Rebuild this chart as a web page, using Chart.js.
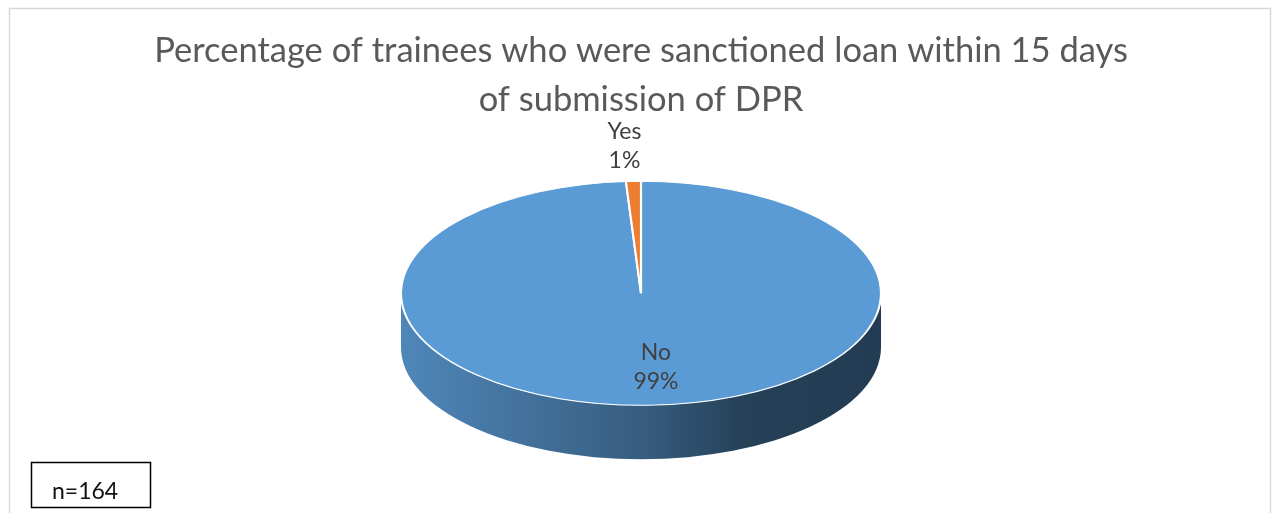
<!DOCTYPE html>
<html>
<head>
<meta charset="utf-8">
<script src="https://cdn.jsdelivr.net/npm/chart.js@4/dist/chart.umd.min.js"></script>
<style>
  html, body { margin: 0; padding: 0; background: #fff; }
  canvas { display: block; }
</style>
</head>
<body>
<canvas id="chart" width="1272" height="513"></canvas>
<script>
const titleLines = ['Percentage of trainees who were sanctioned loan within 15 days', 'of submission of DPR'];
const categories = ['No', 'Yes'];
const percentValues = [99, 1];
const sliceColors = ['#5b9bd5', '#ed7d31'];
const sampleNote = 'n=164';

const FONT = 'Lato';
// on-screen size of the tilted pie (top face radii + wall height)
const PIE_RX = 240;
const PIE_RY = 112;
const PIE_DEPTH = 54;

function shade(hex, f) {
  const n = parseInt(hex.slice(1), 16);
  const r = Math.round(((n >> 16) & 255) * f);
  const g = Math.round(((n >> 8) & 255) * f);
  const b = Math.round((n & 255) * f);
  return `rgb(${r},${g},${b})`;
}

function pieGeometry(chart) {
  const arcs = chart.getDatasetMeta(0).data;
  const first = arcs[0];
  return { arcs, cx: first.x, cy: first.y, r: first.outerRadius };
}

// part of [a0, a1] facing the viewer (0..PI is the lower half of the ellipse)
function frontSpan(a0, a1) {
  for (let k = -2; k <= 2; k++) {
    const off = k * 2 * Math.PI;
    const lo = Math.max(a0, off);
    const hi = Math.min(a1, off + Math.PI);
    if (hi > lo) return [lo - off, hi - off];
  }
  return null;
}

const tiltPlugin = {
  id: 'tilt',
  beforeDatasetsDraw(chart) {
    const { ctx } = chart;
    const { arcs, cx, cy, r } = pieGeometry(chart);

    // side wall under the front of each slice
    arcs.forEach((arc, i) => {
      const span = frontSpan(arc.startAngle, arc.endAngle);
      if (!span) return;
      const base = sliceColors[i];
      const grad = ctx.createLinearGradient(cx - PIE_RX, 0, cx + PIE_RX, 0);
      grad.addColorStop(0, shade(base, 0.87));
      grad.addColorStop(0.5, shade(base, 0.6));
      grad.addColorStop(0.72, shade(base, 0.41));
      grad.addColorStop(1, shade(base, 0.39));
      ctx.beginPath();
      ctx.ellipse(cx, cy, PIE_RX, PIE_RY, 0, span[0], span[1], false);
      ctx.ellipse(cx, cy + PIE_DEPTH, PIE_RX, PIE_RY, 0, span[1], span[0], true);
      ctx.closePath();
      ctx.fillStyle = grad;
      ctx.fill();
    });

    // squash the flat pie into the top face
    ctx.save();
    ctx.translate(cx, cy);
    ctx.scale(PIE_RX / r, PIE_RY / r);
    ctx.translate(-cx, -cy);
  },
  afterDatasetsDraw(chart) {
    const { ctx } = chart;
    ctx.restore();

    const { arcs, cx, cy } = pieGeometry(chart);
    const values = chart.data.datasets[0].data;
    const total = values.reduce((a, b) => a + b, 0);

    ctx.save();
    ctx.font = `23px ${FONT}`;
    ctx.fillStyle = '#404040';
    ctx.textAlign = 'center';
    ctx.textBaseline = 'middle';
    arcs.forEach((arc, i) => {
      const pct = Math.round(values[i] / total * 100);
      const a = (arc.startAngle + arc.endAngle) / 2;
      let x, y;
      if (pct >= 5) {
        x = cx + PIE_RX * 0.66 * Math.cos(a) + 10;
        y = cy + PIE_RY * 0.66 * Math.sin(a);
      } else {
        // small slice: label sits just outside the rim
        x = cx + PIE_RX * Math.cos(a) - 9;
        y = cy + PIE_RY * Math.sin(a) - 35;
      }
      ctx.fillText(chart.data.labels[i], x, y - 14.5);
      ctx.fillText(pct + '%', x, y + 14.5);
    });
    ctx.restore();
  },
  afterDraw(chart) {
    const { ctx } = chart;
    ctx.save();
    // chart frame
    ctx.strokeStyle = '#d9d9d9';
    ctx.lineWidth = 1.5;
    ctx.strokeRect(9.5, 8.5, 1261, 540);
    // sample size box
    ctx.strokeStyle = '#000';
    ctx.lineWidth = 1.5;
    ctx.strokeRect(31.5, 462.5, 119, 45);
    ctx.font = `23px ${FONT}`;
    ctx.fillStyle = '#111';
    ctx.textAlign = 'left';
    ctx.textBaseline = 'alphabetic';
    ctx.fillText(sampleNote, 52, 499);
    ctx.restore();
  }
};

new Chart(document.getElementById('chart'), {
  type: 'pie',
  data: {
    labels: categories,
    datasets: [{
      data: percentValues,
      backgroundColor: sliceColors,
      borderColor: '#ffffff',
      borderWidth: 1.5
    }]
  },
  options: {
    responsive: false,
    animation: false,
    devicePixelRatio: 1,
    layout: { padding: { left: 10, bottom: 51 } },
    plugins: {
      legend: { display: false },
      tooltip: { enabled: false },
      title: {
        display: true,
        text: titleLines,
        color: '#595959',
        font: { family: FONT, size: 34.5, weight: 'normal', lineHeight: 1.43 },
        padding: { top: 26, bottom: 0 }
      }
    }
  },
  plugins: [tiltPlugin]
});
</script>
</body>
</html>
